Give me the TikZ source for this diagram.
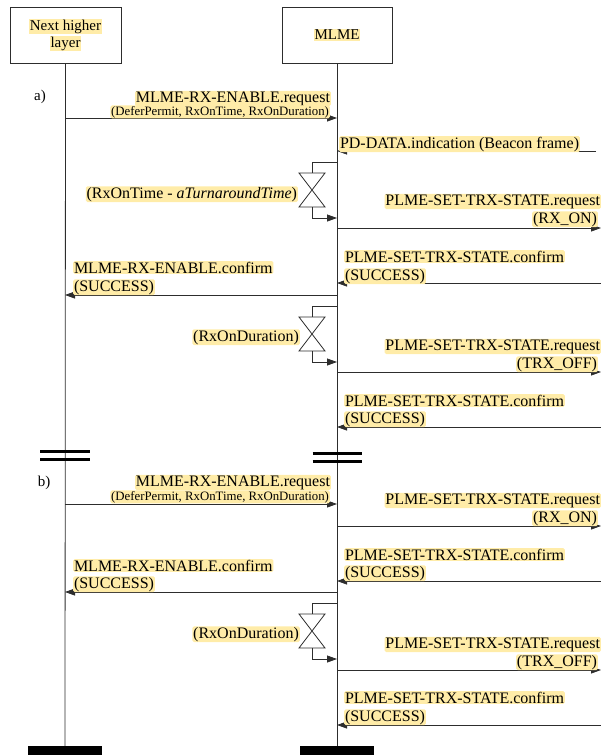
\documentclass[tikz,border=0pt]{standalone}
\usepackage{fontspec}
\setmainfont{Liberation Serif}
\usetikzlibrary{arrows.meta}
\definecolor{hlc}{RGB}{255,236,168}
\definecolor{ln}{RGB}{45,45,45}
\newcommand\hlt[1]{{\setlength{\fboxsep}{0.8pt}\colorbox{hlc}{#1}}}
\def\xL{65}
\def\xM{337}
\def\xR{601}
\def\xP{596}
\begin{document}
\begin{tikzpicture}[x=1pt,y=-1pt,
  box/.style={draw=ln, line width=0.9pt, minimum height=56pt, align=center, inner sep=0pt, font=\rmfamily\fontsize{15}{17}\selectfont},
  hl/.style={fill=hlc, inner xsep=0.8pt, inner ysep=0.6pt, rounded corners=1.5pt, font=\rmfamily\fontsize{16}{18}\selectfont},
  hls/.style={hl, font=\rmfamily\fontsize{12.8}{14}\selectfont},
  plain/.style={font=\rmfamily\fontsize{15}{18}\selectfont},
  msg/.style={draw=ln, line width=0.8pt, -{Triangle[length=10pt,width=7pt]}},
  life/.style={draw=ln, line width=0.8pt},
  brk/.style={line width=3pt, draw=black},
  tm/.style={draw=ln, line width=0.8pt},
  bar/.style={fill=black, draw=none},
]
\useasboundingbox (0,0) rectangle (601,755);
\clip (0,0) rectangle (601,755);

% header boxes
\node[box, minimum width=111pt] (nh) at (65.5,35) {\hlt{Next higher}\\\hlt{layer}};
\node[box, minimum width=110pt] (mlme) at (337,35) {\hlt{MLME}};

% lifeline ends and bottom bars
\coordinate (nhend) at (\xL,746);
\coordinate (mlend) at (\xM,746);
\draw[life] (nh.south) -- (nhend);
\draw[life] (mlme.south) -- (mlend);
\node[bar, minimum width=74pt, minimum height=9pt, inner sep=0pt, anchor=north] (nhbar) at (nhend) {};
\node[bar, minimum width=74pt, minimum height=9pt, inner sep=0pt, anchor=north] (mlbar) at (mlend) {};

% section labels
\node[plain] (la) at (40,97) {a)};
\node[plain] (lb) at (44,483) {b)};

% break marks
\foreach \n/\x/\w/\y in {bl/\xL/25/451, bm/\xM/24.5/453}{
  \coordinate (\n1a) at (\x-\w,\y); \coordinate (\n1b) at (\x+\w,\y);
  \coordinate (\n2a) at (\x-\w,\y+8); \coordinate (\n2b) at (\x+\w,\y+8);
  \draw[brk] (\n1a) -- (\n1b);
  \draw[brk] (\n2a) -- (\n2b);
}

% message arrows
\foreach \n/\y/\f/\t in {a1/118/L/M, a2/151/P/M, a3/228/M/R, a4/283/R/M, a5/295/M/L, a6/372/M/R, a7/427/R/M,
                         b1/504/L/M, b2/526/M/R, b3/581/R/M, b4/592/M/L, b5/670/M/R, b6/725/R/M}{
  \coordinate (\n-s) at (\csname x\f\endcsname,\y);
  \coordinate (\n-e) at (\csname x\t\endcsname,\y);
  \draw[msg] (\n-s) -- (\n-e);
}

% timers
\foreach \n/\t in {t1/162, t2/306, t3/603}{
  \coordinate (\n-a) at (\xM,\t);
  \coordinate (\n-b) at (312,\t);
  \coordinate (\n-c) at (312,\t+11);
  \coordinate (\n-d) at (312,\t+45);
  \coordinate (\n-e) at (312,\t+56);
  \coordinate (\n-f) at (\xM,\t+56);
  \coordinate (\n-g1) at (299,\t+11);
  \coordinate (\n-g2) at (325,\t+11);
  \coordinate (\n-g3) at (299,\t+45);
  \coordinate (\n-g4) at (325,\t+45);
  \draw[tm] (\n-a) -- (\n-b) -- (\n-c);
  \draw[tm] (\n-g1) -- (\n-g2) -- (\n-g3) -- (\n-g4) -- cycle;
  \draw[msg] (\n-d) -- (\n-e) -- (\n-f);
}

% labels, section a
\node[hl, anchor=base east] (ta1) at (331,102) {MLME-RX-ENABLE.request};
\node[hls, anchor=base east] (ta1b) at (330,115) {(DeferPermit, RxOnTime, RxOnDuration)};
\node[hl, anchor=base west] (ta2) at (339,148) {PD-DATA.indication (Beacon frame)};
\node[hl, anchor=base east] (tt1) at (298,198) {(RxOnTime - \textit{aTurnaroundTime})};
\node[hl, anchor=base east] (ta3) at (601,205) {PLME-SET-TRX-STATE.request};
\node[hl, anchor=base east] (ta3b) at (598,223) {(RX\_ON)};
\node[hl, anchor=base west] (ta4) at (344,262) {PLME-SET-TRX-STATE.confirm};
\node[hl, anchor=base west] (ta4b) at (344,280) {(SUCCESS)};
\node[hl, anchor=base west] (ta5) at (73,273) {MLME-RX-ENABLE.confirm};
\node[hl, anchor=base west] (ta5b) at (73,291) {(SUCCESS)};
\node[hl, anchor=base east] (tt2) at (300,341) {(RxOnDuration)};
\node[hl, anchor=base east] (ta6) at (601,350) {PLME-SET-TRX-STATE.request};
\node[hl, anchor=base east] (ta6b) at (598,368) {(TRX\_OFF)};
\node[hl, anchor=base west] (ta7) at (344,406) {PLME-SET-TRX-STATE.confirm};
\node[hl, anchor=base west] (ta7b) at (344,423) {(SUCCESS)};

% labels, section b
\node[hl, anchor=base east] (tb1) at (331,486) {MLME-RX-ENABLE.request};
\node[hls, anchor=base east] (tb1b) at (330,500) {(DeferPermit, RxOnTime, RxOnDuration)};
\node[hl, anchor=base east] (tb2) at (601,504) {PLME-SET-TRX-STATE.request};
\node[hl, anchor=base east] (tb2b) at (598,522) {(RX\_ON)};
\node[hl, anchor=base west] (tb3) at (344,560) {PLME-SET-TRX-STATE.confirm};
\node[hl, anchor=base west] (tb3b) at (344,577) {(SUCCESS)};
\node[hl, anchor=base west] (tb4) at (73,571) {MLME-RX-ENABLE.confirm};
\node[hl, anchor=base west] (tb4b) at (73,588) {(SUCCESS)};
\node[hl, anchor=base east] (tt3) at (300,638) {(RxOnDuration)};
\node[hl, anchor=base east] (tb5) at (601,648) {PLME-SET-TRX-STATE.request};
\node[hl, anchor=base east] (tb5b) at (598,666) {(TRX\_OFF)};
\node[hl, anchor=base west] (tb6) at (344,703) {PLME-SET-TRX-STATE.confirm};
\node[hl, anchor=base west] (tb6b) at (344,721) {(SUCCESS)};
\end{tikzpicture}
\end{document}
